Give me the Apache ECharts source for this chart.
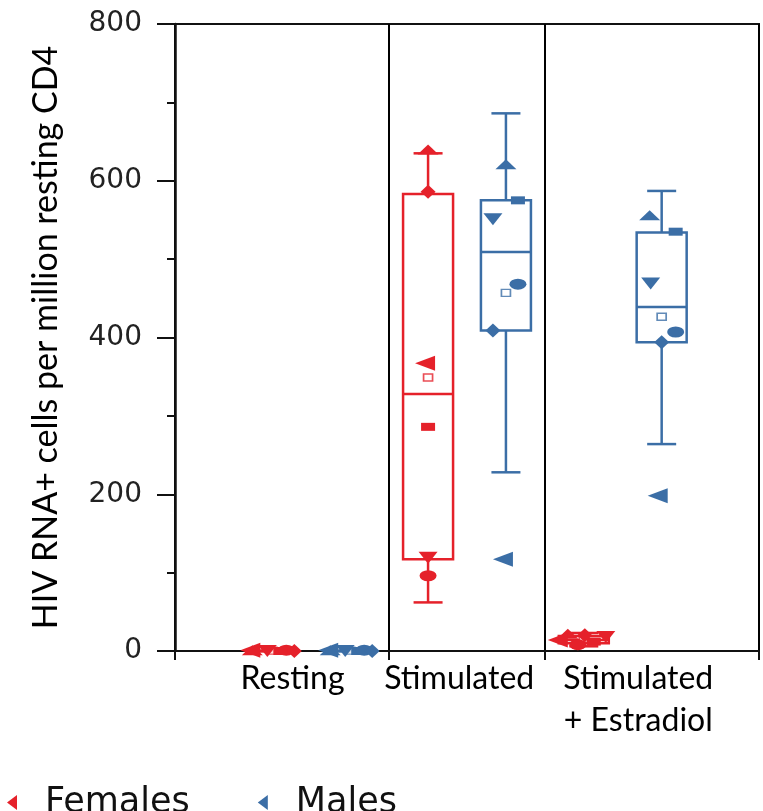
<!DOCTYPE html>
<html>
<head>
<meta charset="utf-8">
<script src="https://cdn.jsdelivr.net/npm/echarts@6/dist/echarts.min.js"></script>
<style>
    html, body { margin: 0; padding: 0; background: #fff; }
    #container { width: 763px; height: 811px; }
</style>
</head>
<body>
<div id="container"></div>
<script>
var categories = ['Resting', 'Stimulated', 'Stimulated\n+ Estradiol'];
// box per condition: [min, Q1, median, Q3, max]
var femaleBoxes = [[0, 0, 0, 0, 0], [62, 117, 328, 583, 635], [6, 10, 14, 19, 23]];
var maleBoxes = [[0, 0, 0, 0, 0], [228, 409, 509, 575, 686], [264, 394, 439, 534, 587]];
// one value per subject, in the order of subjectShapes
var subjectShapes = ['up', 'down', 'left', 'square', 'circle', 'diamond'];
var femaleValues = [[1, 0, 1, 0, 1, 0], [640, 119, 367, 286, 96, 586], [22, 18, 14, 12, 8, 20]];
var maleValues = [[1, 0, 1, 0, 1, 0], [621, 551, 117, 575, 468, 409], [556, 469, 198, 535, 407, 394]];

var RED = '#e5212a', BLUE = '#3b6ea6';
var BOX_W = 50, CAP_W = 29;
var sexShift = { Females: -0.25, Males: 0.25 };
var labelAnchors = [-0.12, 0.95, 2.1];
// horizontal spread of the points (px)
var femaleJitter = [[-20, -5, -22, 8, 14, 22], [0, 0, -3, 0, 0, 0], [-16, 22, -26, 10, -6, 1]];
var maleJitter = [[-20, -5, -22, 8, 14, 22], [0, -13, -3, 12, 12, -13], [-12, -11, -4, 14, 14, 0]];
var shapeStyle = {
    up: { symbol: 'triangle', size: [21, 10], rotate: 0 },
    down: { symbol: 'triangle', size: [19, 12], rotate: 180 },
    left: { symbol: 'triangle', size: [15, 20], rotate: 90 },
    square: { symbol: 'rect', size: [14, 8], rotate: 0 },
    circle: { symbol: 'circle', size: [17, 11], rotate: 0 },
    diamond: { symbol: 'diamond', size: [15, 14], rotate: 0 }
};
var LEFT_ARROW = 'path://M8,0 L0,6 L8,12 Z';

function boxData(boxes, shift) {
    return boxes.map(function (b, g) {
        return [g + shift].concat(b);
    });
}

function pointData(values, jitter, shift) {
    var out = [];
    values.forEach(function (row, g) {
        row.forEach(function (v, k) {
            var st = shapeStyle[subjectShapes[k]];
            out.push({
                value: [g + shift, v],
                symbol: st.symbol,
                symbolSize: st.size,
                symbolRotate: st.rotate,
                symbolOffset: [jitter[g][k], 0]
            });
        });
    });
    return out;
}

function meanData(values, shift) {
    return values.map(function (row, g) {
        var sum = 0;
        row.forEach(function (v) { sum += v; });
        return [g + shift, sum / row.length];
    });
}

function boxItem(color) {
    return function (params, api) {
        var x = api.value(0);
        var pMin = api.coord([x, api.value(1)]);
        var pQ1 = api.coord([x, api.value(2)]);
        var pMed = api.coord([x, api.value(3)]);
        var pQ3 = api.coord([x, api.value(4)]);
        var pMax = api.coord([x, api.value(5)]);
        var cx = pMed[0], hw = BOX_W / 2, cw = CAP_W / 2;
        function st() { return { stroke: color, lineWidth: 2.5, fill: 'none' }; }
        return {
            type: 'group',
            children: [
                { type: 'line', shape: { x1: cx, y1: pQ3[1], x2: cx, y2: pMax[1] }, style: st() },
                { type: 'line', shape: { x1: cx, y1: pQ1[1], x2: cx, y2: pMin[1] }, style: st() },
                { type: 'line', shape: { x1: cx - cw, y1: pMax[1], x2: cx + cw, y2: pMax[1] }, style: st() },
                { type: 'line', shape: { x1: cx - cw, y1: pMin[1], x2: cx + cw, y2: pMin[1] }, style: st() },
                { type: 'rect', shape: { x: cx - hw, y: pQ3[1], width: BOX_W, height: pQ1[1] - pQ3[1] }, style: st() },
                { type: 'line', shape: { x1: cx - hw, y1: pMed[1], x2: cx + hw, y2: pMed[1] }, style: st() }
            ]
        };
    };
}

var dom = document.getElementById('container');
var myChart = echarts.init(dom);
var option = {
    animation: false,
    grid: {
        left: 175, right: 4, top: 24, bottom: 160,
        show: true, borderColor: '#111', borderWidth: 2
    },
    legend: {
        left: 2, top: 780,
        itemWidth: 10, itemHeight: 15, itemGap: 68,
        selectedMode: false,
        data: [{ name: 'Females', icon: LEFT_ARROW }, { name: 'Males', icon: LEFT_ARROW }],
        textStyle: { fontFamily: 'DejaVu Sans', fontSize: 35, color: '#111', padding: [0, 0, 0, 23] }
    },
    xAxis: {
        type: 'value', min: -0.875, max: 2.875,
        axisLine: { show: true, onZero: false, lineStyle: { color: '#111', width: 2 } },
        axisTick: { show: true, customValues: [-0.875, 0.5, 1.5, 2.875], length: 9, lineStyle: { color: '#111', width: 2 } },
        splitLine: { show: true, lineStyle: { color: '#000', width: 2 } },
        axisLabel: {
            customValues: labelAnchors,
            formatter: function (v) { return categories[Math.round(v)]; },
            margin: 7, fontFamily: 'Lato', fontSize: 32, color: '#000', lineHeight: 42
        }
    },
    yAxis: {
        type: 'value', min: 0, max: 800, interval: 200,
        name: 'HIV RNA+ cells per million resting CD4',
        nameLocation: 'middle', nameGap: 112,
        nameTextStyle: { fontFamily: 'Lato', fontSize: 34, color: '#000' },
        axisLine: { show: true, onZero: false, lineStyle: { color: '#111', width: 2.5 } },
        axisTick: { show: true, length: 18, lineStyle: { color: '#111', width: 2 } },
        minorTick: { show: true, splitNumber: 2, length: 8, lineStyle: { color: '#111', width: 2 } },
        axisLabel: { margin: 33, fontFamily: 'DejaVu Sans', fontSize: 28, color: '#222' },
        splitLine: { show: false }
    },
    series: [
        { name: 'Females box', type: 'custom', renderItem: boxItem(RED), data: boxData(femaleBoxes, sexShift.Females), z: 1 },
        { name: 'Males box', type: 'custom', renderItem: boxItem(BLUE), data: boxData(maleBoxes, sexShift.Males), z: 1 },
        {
            name: 'Females mean', type: 'scatter', symbol: 'rect', symbolSize: [9, 7], z: 2,
            itemStyle: { color: '#fff', borderColor: RED, borderWidth: 1.5 },
            data: meanData(femaleValues, sexShift.Females)
        },
        {
            name: 'Males mean', type: 'scatter', symbol: 'rect', symbolSize: [9, 7], z: 2,
            itemStyle: { color: '#fff', borderColor: BLUE, borderWidth: 1.5 },
            data: meanData(maleValues, sexShift.Males)
        },
        { name: 'Females', type: 'scatter', z: 3, itemStyle: { color: RED, opacity: 1 }, data: pointData(femaleValues, femaleJitter, sexShift.Females) },
        { name: 'Males', type: 'scatter', z: 3, itemStyle: { color: BLUE, opacity: 1 }, data: pointData(maleValues, maleJitter, sexShift.Males) }
    ]
};
if (option && typeof option === "object") {
    myChart.setOption(option, true);
}
</script>
</body>
</html>
